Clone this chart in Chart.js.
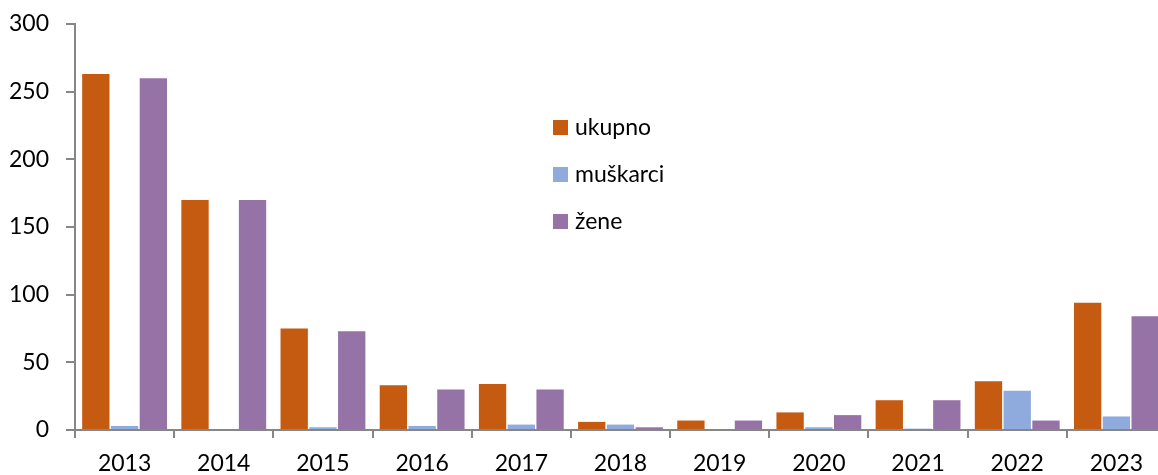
<!DOCTYPE html>
<html>
<head>
<meta charset="utf-8">
<script src="https://cdn.jsdelivr.net/npm/chart.js@4"></script>
<style>
  html, body { margin: 0; padding: 0; background: #fff; overflow: hidden; }
  #wrap { position: relative; width: 1170px; height: 475px; }
  #legenda { position: absolute; left: 553px; top: 112px; font-family: Lato, "Open Sans", sans-serif; font-size: 23px; color: #000; }
  #legenda div { height: 47px; display: flex; align-items: flex-start; }
  #legenda span.box { display: inline-block; width: 15px; height: 15px; margin: 8px 7px 0 0; }
</style>
</head>
<body>
<div id="wrap">
  <canvas id="grafikon" width="1170" height="475"></canvas>
  <div id="legenda"></div>
</div>
<script>
// Podaci
const godine = ["2013", "2014", "2015", "2016", "2017", "2018", "2019", "2020", "2021", "2022", "2023"];
const ukupno = [263, 170, 75, 33, 34, 6, 7, 13, 22, 36, 94];
const muskarci = [3, 0, 2, 3, 4, 4, 0, 2, 1, 29, 10];
const zene = [260, 170, 73, 30, 30, 2, 7, 11, 22, 7, 84];

const nazivi = ["ukupno", "muškarci", "žene"];
const boje = ["#C55A11", "#8FAADC", "#9673A6"];

const fontTxt = { family: "Lato, 'Open Sans', sans-serif", size: 23 };

const chart = new Chart(document.getElementById("grafikon"), {
  type: "bar",
  data: {
    labels: godine,
    datasets: [ukupno, muskarci, zene].map((d, i) => ({
      label: nazivi[i],
      data: d,
      backgroundColor: boje[i],
      borderWidth: 0,
      barPercentage: 0.95,
      categoryPercentage: 0.87
    }))
  },
  options: {
    responsive: false,
    animation: false,
    layout: { padding: { top: 24, right: 4, left: 0, bottom: 0 } },
    plugins: { legend: { display: false }, tooltip: { enabled: false } },
    scales: {
      x: {
        grid: { drawOnChartArea: false, tickLength: 8, color: "#868686", lineWidth: 2, offset: true },
        border: { color: "#868686", width: 2 },
        ticks: { color: "#000", font: fontTxt, padding: 12, maxRotation: 0 },
        afterFit: s => { s.height = 45; }
      },
      y: {
        min: 0, max: 300,
        grid: { drawOnChartArea: false, tickLength: 9, color: "#868686", lineWidth: 2 },
        border: { color: "#868686", width: 2 },
        ticks: { stepSize: 50, color: "#000", font: fontTxt, padding: 17 },
        afterFit: s => { s.width = 75; s.paddingTop = 0; s.paddingBottom = 0; }
      }
    }
  }
});

// Legenda
const leg = document.getElementById("legenda");
nazivi.forEach((n, i) => {
  const red = document.createElement("div");
  red.innerHTML = '<span class="box" style="background:' + boje[i] + '"></span>' + n;
  leg.appendChild(red);
});
</script>
</body>
</html>
